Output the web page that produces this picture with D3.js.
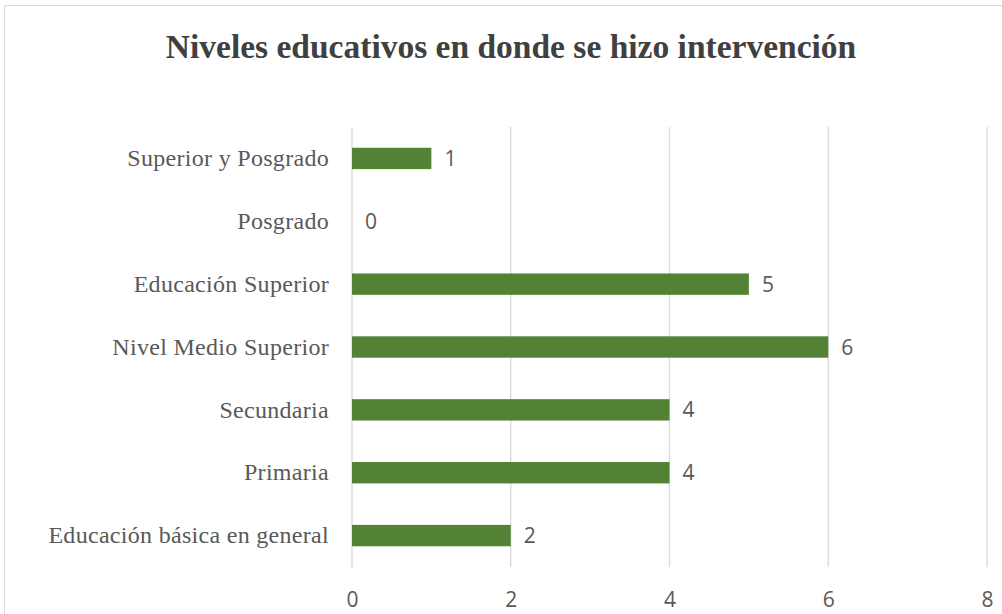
<!DOCTYPE html>
<html>
<head>
<meta charset="utf-8">
<script src="https://cdn.jsdelivr.net/npm/d3@7"></script>
<style>
  body { margin: 0; background: #fff; }
  svg { display: block; }
</style>
</head>
<body>
<svg></svg>
<script>
const width = 1002;
const height = 614;

const categories = ["Superior y Posgrado", "Posgrado", "Educación Superior", "Nivel Medio Superior", "Secundaria", "Primaria", "Educación básica en general"];
const values = [1, 0, 5, 6, 4, 4, 2];
const ticks = [0, 2, 4, 6, 8];
const title = "Niveles educativos en donde se hizo intervención";

const svg = d3.select('svg').attr('width', width).attr('height', height);

// chart frame (only top/left visible in the crop)
svg.append('rect')
  .attr('x', 4.5).attr('y', 5.5)
  .attr('width', 1100).attr('height', 700)
  .attr('fill', '#fff')
  .attr('stroke', '#d9d9d9');

const x = d3.scaleLinear().domain([0, 8]).range([352, 987]);
const y = d3.scaleBand().domain(categories).range([127, 567]).paddingInner(0.66).paddingOuter(0.33);

// gridlines
svg.append('g').selectAll('line').data(ticks).enter().append('line')
  .attr('x1', d => x(d)).attr('x2', d => x(d))
  .attr('y1', 127).attr('y2', 567)
  .attr('stroke', '#d9d9d9').attr('stroke-width', 1.3);

// x axis labels
const xAxis = d3.axisBottom(x).tickValues(ticks).tickSize(0).tickPadding(0);
const gx = svg.append('g').attr('transform', 'translate(0,592)').call(xAxis);
gx.select('.domain').remove();
gx.selectAll('text')
  .attr('font-family', '"Open Sans", sans-serif')
  .attr('font-size', 21)
  .attr('fill', '#595959');

// category labels
const yAxis = d3.axisLeft(y).tickSize(0).tickPadding(0);
const gy = svg.append('g').attr('transform', 'translate(329,0)').call(yAxis);
gy.select('.domain').remove();
gy.selectAll('text')
  .attr('font-family', '"Liberation Serif", "Times New Roman", serif')
  .attr('font-size', 24)
  .attr('letter-spacing', 0.3)
  .attr('fill', '#595959');

// bars
svg.append('g').selectAll('rect').data(categories).enter().append('rect')
  .attr('x', x(0))
  .attr('y', d => y(d))
  .attr('width', (d, i) => x(values[i]) - x(0))
  .attr('height', y.bandwidth())
  .attr('fill', '#548235');

// value labels
svg.append('g').selectAll('text').data(categories).enter().append('text')
  .attr('x', (d, i) => x(values[i]) + 13)
  .attr('y', d => y(d) + y.bandwidth() / 2)
  .attr('dy', '0.36em')
  .attr('font-family', '"Open Sans", sans-serif')
  .attr('font-size', 21)
  .attr('fill', '#595959')
  .text((d, i) => values[i]);

// title
svg.append('text')
  .attr('x', 511).attr('y', 58)
  .attr('text-anchor', 'middle')
  .attr('font-family', '"Liberation Serif", "Times New Roman", serif')
  .attr('font-weight', 'bold')
  .attr('font-size', 33.5)
  .attr('fill', '#404040')
  .text(title);
</script>
</body>
</html>
